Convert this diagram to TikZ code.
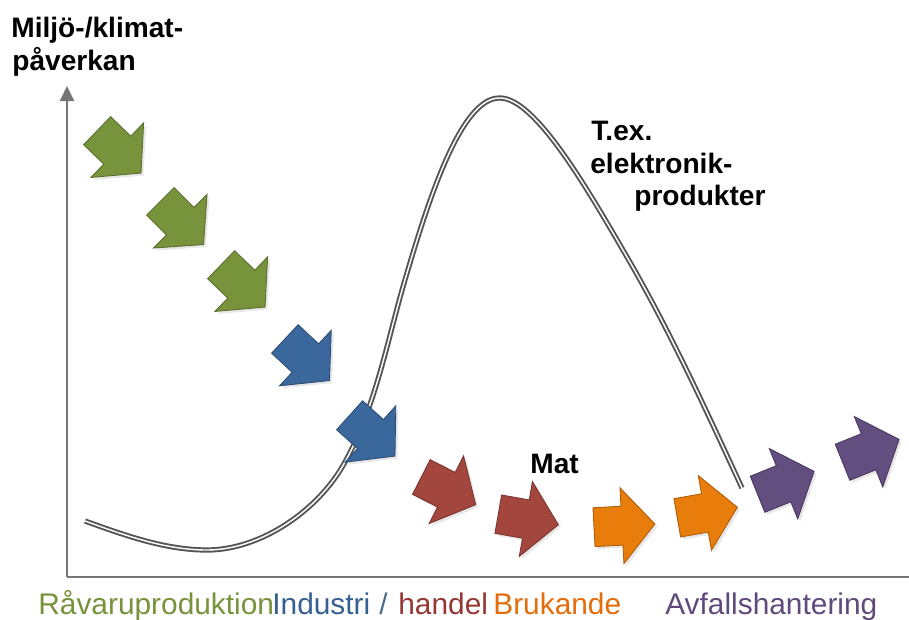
\documentclass[tikz,border=0pt]{standalone}
\usepackage{fontspec}
\setmainfont{Liberation Sans}
\usepackage{tikz}
\usetikzlibrary{arrows.meta,shapes.arrows,shadows,positioning}
\definecolor{olivegr}{RGB}{119,147,60}
\definecolor{steelbl}{RGB}{59,104,156}
\definecolor{brickrd}{RGB}{163,70,62}
\definecolor{pumpkin}{RGB}{232,125,12}
\definecolor{plum}{RGB}{99,78,128}
\definecolor{axisgray}{RGB}{118,118,118}
\definecolor{curvegray}{RGB}{85,85,85}
\definecolor{txtgreen}{RGB}{119,147,60}
\definecolor{txtblue}{RGB}{55,96,146}
\definecolor{txtred}{RGB}{149,55,53}
\definecolor{txtorange}{RGB}{228,108,10}
\definecolor{txtpurple}{RGB}{96,74,123}

\begin{document}
\begin{tikzpicture}[x=0.02cm,y=-0.02cm,
    blockarr/.style={single arrow, draw=#1!75!black, fill=#1, line width=0.5pt,
      minimum height=1.22cm, minimum width=1.5cm, inner xsep=0pt, inner ysep=0.38cm,
      single arrow head extend=0.37cm, single arrow tip angle=98,
      drop shadow={opacity=0.18, shadow xshift=0.05cm, shadow yshift=-0.05cm}},
    curve/.style={draw=curvegray, line width=1.1pt, double=white, double distance=0.8pt},
    axis/.style={draw=axisgray, line width=1.1pt},
    headtxt/.style={font=\bfseries\fontsize{16}{19}\selectfont, inner sep=0pt, anchor=base west},
    phasetxt/.style={font=\fontsize{17}{20}\selectfont, inner sep=0pt, anchor=base west}]
        \useasboundingbox (0,0) rectangle (909,619);
        \coordinate (O) at (67,577);
        \coordinate (ytop) at (67,86);
        \coordinate (xend) at (909,577);
        %Axis
        \draw[axis] (O) -- (xend);
        \draw[axis,-{Triangle[width=0.28cm,length=0.3cm]}] (O) -- (ytop);
        %Curve
        \draw[curve] (85,521) .. controls (124,535) and (165,550) .. (207,550)
          .. controls (261,550) and (319,510) .. (345,462)
          .. controls (377,404) and (388,336) .. (407,273)
          .. controls (430,195) and (462,97) .. (500,98)
          .. controls (535,98) and (587,188) .. (627,257)
          .. controls (670,331) and (706,410) .. (742,488);
        %Arrows
        \node[blockarr=olivegr, rotate=-44] (g1) at (113,146) {};
        \node[blockarr=olivegr, rotate=-45] (g2) at (176,217) {};
        \node[blockarr=olivegr, rotate=-44] (g3) at (237,280) {};
        \node[blockarr=steelbl, rotate=-43] (b1) at (301,354) {};
        \node[blockarr=steelbl, rotate=-42] (b2) at (366,430) {};
        \node[blockarr=brickrd, rotate=-27] (r1) at (441,487) {};
        \node[blockarr=brickrd, rotate=-10] (r2) at (520,518) {};
        \node[blockarr=pumpkin, rotate=3] (o1) at (616,526) {};
        \node[blockarr=pumpkin, rotate=10] (o2) at (699,514) {};
        \node[blockarr=plum, rotate=22] (p1) at (778,486) {};
        \node[blockarr=plum, rotate=22] (p2) at (863,454) {};
        %Labels
        \node[headtxt] (ylab1) at (11,37) {Miljö-/klimat-};
        \node[headtxt] (ylab2) at (12,70) {påverkan};
        \node[headtxt] (ex1) at (591,140) {T.ex.};
        \node[headtxt] (ex2) at (590,173) {elektronik-};
        \node[headtxt] (ex3) at (634,205) {produkter};
        \node[headtxt] (mat) at (530,473) {Mat};
        %Phases
        \node[phasetxt, text=txtgreen] (rav) at (38,614) {Råvaruproduktion};
        \node[phasetxt, text=txtblue] (ind) at (272,614) {Industri};
        \node[phasetxt, text=txtblue!70!gray] (sl) at (379,614) {/};
        \node[phasetxt, text=txtred] (han) at (398,614) {handel};
        \node[phasetxt, text=txtorange] (bru) at (493,614) {Brukande};
        \node[phasetxt, text=txtpurple] (avf) at (665,614) {Avfallshantering};
\end{tikzpicture}
\end{document}
